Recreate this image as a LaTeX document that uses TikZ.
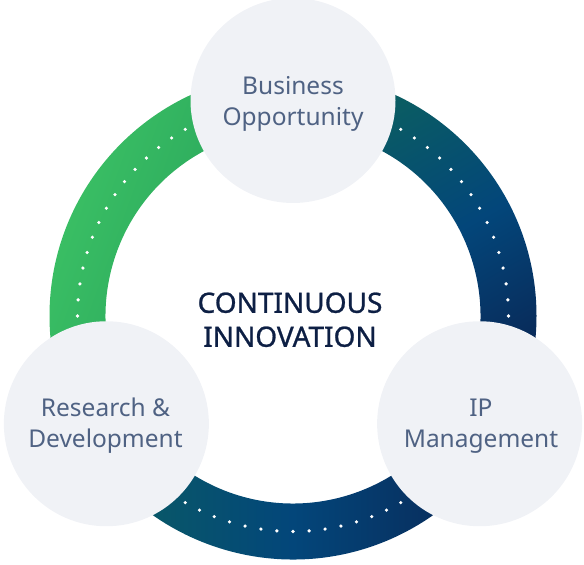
\documentclass[tikz,border=0pt]{standalone}
\usepackage{fontspec}
\setmainfont{Noto Sans}
\definecolor{grLight}{HTML}{3CC265}
\definecolor{grDark}{HTML}{229A58}
\definecolor{tealA}{HTML}{0B5F60}
\definecolor{blueA}{HTML}{03467A}
\definecolor{navyA}{HTML}{0A2553}
\definecolor{bubblefill}{HTML}{F0F2F6}
\definecolor{bubbletextc}{HTML}{4F6283}
\definecolor{centertextc}{HTML}{0D1F44}
\begin{document}
\begin{tikzpicture}[x=1pt,y=1pt,
  bubble/.style={circle, fill=bubblefill, minimum size=205pt, inner sep=0pt},
  bubbletext/.style={align=center, text=bubbletextc, inner sep=0pt, text depth=0pt, anchor=south,
    font=\fontsize{24.5}{31}\selectfont},
  centertext/.style={align=center, text=centertextc, inner sep=0pt, text depth=0pt, anchor=south,
    font=\fontsize{28}{34}\selectfont\addfontfeatures{FakeBold=0.9}},
  dotmark/.style={fill=white}]
\useasboundingbox (0,0) rectangle (584,565);
\pgfmathsetmacro{\Ro}{243.5}
\pgfmathsetmacro{\Ri}{187.5}
\pgfmathsetmacro{\Rm}{215.5}
\coordinate (C) at (293,249);
% left (green) segment
\shade[top color=grLight, bottom color=grDark, shading angle=70]
  ([shift={(90:\Ro)}]C) arc[start angle=90, end angle=210, radius=\Ro]
  -- ([shift={(210:\Ri)}]C) arc[start angle=210, end angle=90, radius=\Ri] -- cycle;
% right segment
\shade[top color=tealA, bottom color=navyA, middle color=blueA, shading angle=30]
  ([shift={(90:\Ro)}]C) arc[start angle=90, end angle=-30, radius=\Ro]
  -- ([shift={(-30:\Ri)}]C) arc[start angle=-30, end angle=90, radius=\Ri] -- cycle;
% bottom segment
\shade[left color=tealA, right color=navyA, middle color=blueA]
  ([shift={(210:\Ro)}]C) arc[start angle=210, end angle=330, radius=\Ro]
  -- ([shift={(330:\Ri)}]C) arc[start angle=330, end angle=210, radius=\Ri] -- cycle;
% dotted guide lines
\foreach \s in {0,120,240}{
  \foreach \k in {0,...,14}{
    \fill[dotmark] ([shift={(\s+\k*60/14:\Rm)}]C) circle[radius=1.8];
  }
}
% bubbles
\node[bubble] (bo) at ([shift={(90:\Rm)}]C) {};
\node[bubble] (rd) at ([shift={(210:\Rm)}]C) {};
\node[bubble] (ip) at ([shift={(330:\Rm)}]C) {};
\node[bubbletext] (bot) at (293,439) {Business\\Opportunity};
\node[bubbletext] (rdt) at (105.5,117) {Research \&\\Development};
\node[bubbletext] (ipt) at (481,117) {IP\\Management};
\node[centertext] (ci) at (290,218) {CONTINUOUS\\INNOVATION};
\end{tikzpicture}
\end{document}
